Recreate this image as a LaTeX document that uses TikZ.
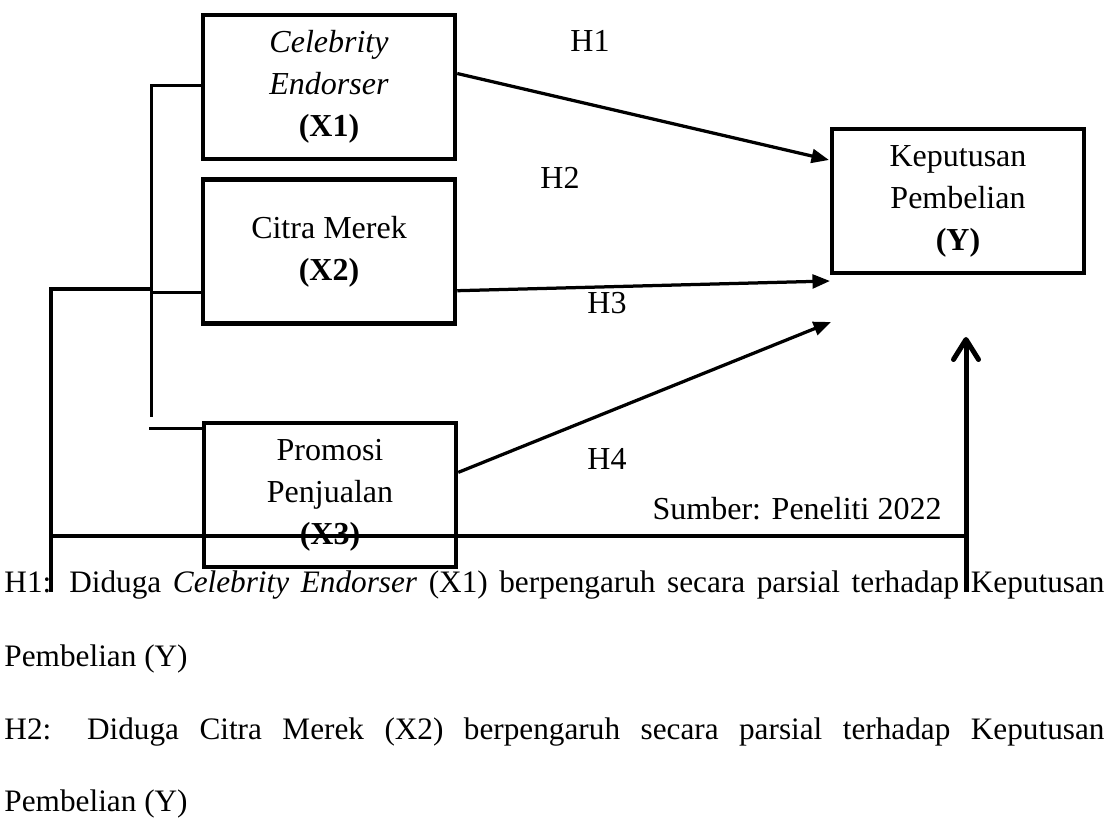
\documentclass[tikz,border=0pt]{standalone}
\usepackage{fontspec}
\setmainfont{Liberation Serif}
\usetikzlibrary{arrows.meta}

\begin{document}
\begin{tikzpicture}[
		x=0.4pt, y=-0.4pt,
		every node/.style={font=\fontsize{12.8}{16.8}\selectfont, inner sep=0pt},
		var/.style={rectangle, draw, line width=1.8pt, minimum width=100.8pt, minimum height=57.6pt, align=center},
		link/.style={line width=1.2pt},
		bar/.style={line width=1.8pt},
		effect/.style={line width=1.3pt, -{Triangle[length=7pt, width=5.5pt]}},
		textline/.style={anchor=base west, font=\fontsize{12.5}{14}\selectfont}
	]
  \useasboundingbox (0, 0) rectangle (1113, 818);
  \node (x_1) [var] at (329, 87) {\textit{Celebrity}\\ \textit{Endorser}\\ \textbf{(X1)}};
  \node (x_2) [var] at (329, 251.5) {Citra Merek\\ \textbf{(X2)}};
  \node (x_3) [var] at (330, 495) {Promosi\\ Penjualan\\ \textbf{(X3)}};
  \node (y) [var] at (958, 201) {Keputusan\\ Pembelian\\ \textbf{(Y)}};
  \node (h_1) at (590, 41) {H1};
  \node (h_2) at (560, 178) {H2};
  \node (h_3) at (607, 303) {H3};
  \node (h_4) at (607, 459) {H4};
  \node (src) [anchor=base east] at (942, 520) {Sumber: Peneliti 2022};
  \node (p_1) [textline] at (4, 593) {\makebox[440pt][s]{H1: Diduga \textit{Celebrity Endorser} (X1) berpengaruh secara parsial terhadap Keputusan}};
  \node (p_2) [textline] at (4, 666) {Pembelian (Y)};
  \node (p_3) [textline] at (4, 739) {\makebox[440pt][s]{H2: Diduga Citra Merek (X2) berpengaruh secara parsial terhadap Keputusan}};
  \node (p_4) [textline] at (4, 811) {Pembelian (Y)};
  \coordinate (b_top) at (151, 86);
  \coordinate (b_bot) at (151, 417);
  \coordinate (b_x2) at (151, 293);
  \coordinate (b_x3) at (149, 429);
  \coordinate (l_top) at (51, 289);
  \coordinate (l_mid) at (51, 536);
  \coordinate (l_bot) at (51, 592);
  \coordinate (r_bot) at (966, 592);
  \coordinate (r_top) at (966, 337);
  \coordinate (t_1) at (829, 160);
  \coordinate (t_3) at (830, 281);
  \coordinate (t_4) at (831, 322);
  \draw [link] (x_1.west |- b_top) -- (b_top) -- (b_bot);
  \draw [link] (b_x2) -- (b_x2 -| x_2.west);
  \draw [link] (b_x3) -- (b_x3 -| x_3.west);
  \draw [bar] (b_x2 |- l_top) -- (l_top) -- (l_bot);
  \draw [bar] (l_mid) -- (l_mid -| r_bot);
  \draw [bar, line width=2pt, -{Straight Barb[length=8pt, width=10pt, round]}] (r_bot) -- (r_top);
  \draw [effect] (x_1.6) -- (t_1);
  \draw [effect] (x_2.-17) -- (t_3);
  \draw [effect] (x_3.10) -- (t_4);
\end{tikzpicture}
\end{document}
